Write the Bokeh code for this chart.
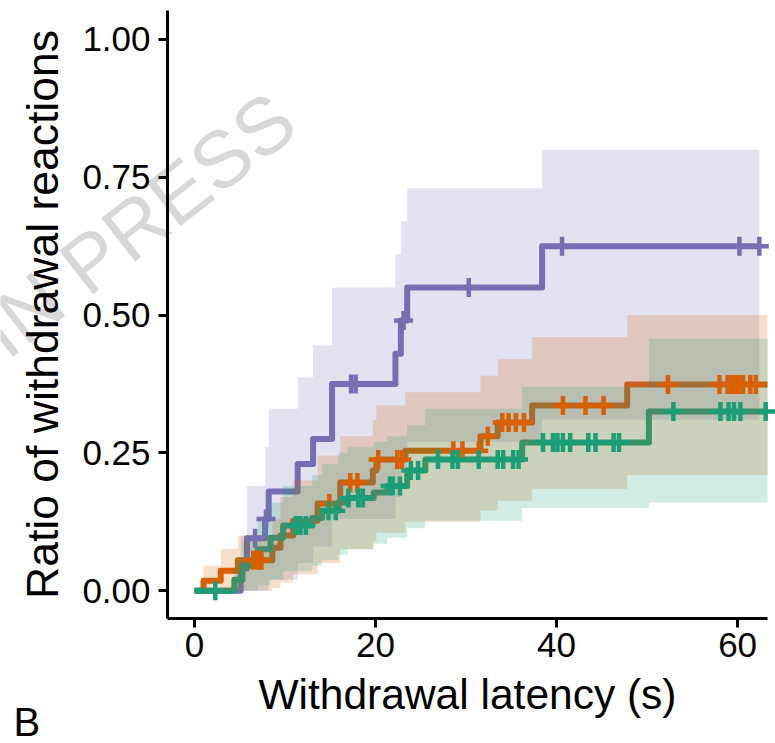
import numpy as np
from bokeh.plotting import figure
from bokeh.models import Range1d, Label, NumeralTickFormatter, FixedTicker
from bokeh.embed import file_html
from bokeh.resources import INLINE

# ---------------- data ----------------
x_ticks = [0, 20, 40, 60]
y_ticks = [0.0, 0.25, 0.5, 0.75, 1.0]
x_lim = (-2.98, 63.3)
y_lim = (-0.0505, 1.0525)

purple_time  = [0, 5.1, 5.8, 7.8, 8.2, 11.4, 13.1, 15.2, 22.2, 22.8, 23.5, 38.4]
purple_est   = [0, 0.04, 0.095, 0.13, 0.18, 0.23, 0.275, 0.375, 0.43, 0.49, 0.55, 0.625]
purple_upper = [0, 0.10, 0.19, 0.26, 0.33, 0.387, 0.445, 0.55, 0.61, 0.67, 0.73, 0.80]
purple_lower = [0, 0, 0, 0, 0.02, 0.05, 0.08, 0.13, 0.17, 0.22, 0.27, 0.31]
purple_end = 62.4
purple_cens = [6.7, 7.9, 17.3, 17.8, 23.1, 30.3, 40.6, 60.2, 62.4]

orange_time  = [0, 1.0, 2.9, 4.8, 8.6, 9.5, 10.9, 13.6, 16.1, 19.7, 20.1, 23.3, 31.6, 33.5, 37.3, 47.8]
orange_est   = [0, 0.018, 0.036, 0.055, 0.078, 0.10, 0.127, 0.158, 0.196, 0.218, 0.238, 0.254, 0.28, 0.305, 0.336, 0.374]
orange_upper = [0, 0.045, 0.076, 0.10, 0.13, 0.17, 0.20, 0.245, 0.28, 0.31, 0.336, 0.36, 0.39, 0.42, 0.46, 0.50]
orange_lower = [0, 0, 0, 0, 0.005, 0.015, 0.03, 0.05, 0.075, 0.09, 0.105, 0.125, 0.145, 0.163, 0.185, 0.21]
orange_end = 63.3
orange_cens = [6.5, 7.0, 7.4, 14.9, 17.2, 18.0, 20.3, 22.4, 22.9, 28.6, 29.6, 31.4, 32.4,
               34.0, 34.7, 35.5, 36.4, 40.7, 43.2, 45.2, 52.3, 58.0, 58.9, 59.4, 59.8,
               60.1, 60.6, 61.4, 62.0]

green_time  = [0, 4.4, 5.3, 7.0, 8.4, 9.8, 13.0, 14.1, 15.9, 16.9, 19.8, 21.3, 23.5, 25.5, 36.2, 50.2]
green_est   = [0, 0.02, 0.045, 0.075, 0.096, 0.118, 0.132, 0.145, 0.16, 0.168, 0.178, 0.19, 0.218, 0.238, 0.269, 0.325]
green_upper = [0, 0.06, 0.09, 0.13, 0.16, 0.19, 0.21, 0.23, 0.25, 0.26, 0.27, 0.28, 0.30, 0.33, 0.37, 0.457]
green_lower = [0, 0, 0, 0.01, 0.02, 0.035, 0.045, 0.055, 0.065, 0.075, 0.085, 0.096, 0.113, 0.127, 0.15, 0.16]
green_end = 63.3
green_cens = [2.3, 11.2, 11.7, 12.3, 14.8, 15.6, 17.0, 18.1, 18.6, 21.6, 21.9, 22.7, 23.9, 24.7,
              26.9, 28.5, 29.1, 31.4, 33.5, 34.1, 35.2, 35.8, 38.5, 39.6, 40.1, 40.7, 41.5,
              43.5, 44.3, 46.3, 46.9, 52.9, 58.1, 59.0, 59.6, 60.3, 63.1]

groups = [
    ("#7570B3", purple_time, purple_est, purple_lower, purple_upper, purple_end, purple_cens),
    ("#D95F02", orange_time, orange_est, orange_lower, orange_upper, orange_end, orange_cens),
    ("#1B9E77", green_time, green_est, green_lower, green_upper, green_end, green_cens),
]

FONT = "Liberation Sans"

# canvas geometry: plotting panel spans px 167..767 (x) and 10..618 (y)
W, H = 775, 743
PL, PR, PT, PB = 167, 767, 10, 618
sx = (PR - PL) / (x_lim[1] - x_lim[0])
sy = (PB - PT) / (y_lim[1] - y_lim[0])
full_x = (x_lim[0] - PL / sx, x_lim[1] + (W - PR) / sx)
full_y = (y_lim[0] - (H - PB) / sy, y_lim[1] + PT / sy)


def stepify(t, v, end):
    xs, ys = [], []
    for i in range(len(t)):
        nxt = t[i + 1] if i + 1 < len(t) else end
        xs += [t[i], nxt]
        ys += [v[i], v[i]]
    return xs, ys


p = figure(width=W, height=H,
           x_range=Range1d(*full_x), y_range=Range1d(*full_y),
           output_backend="svg", toolbar_location=None,
           min_border=0)
p.title.visible = False
p.outline_line_color = None
p.background_fill_color = None
p.border_fill_color = None
p.xgrid.visible = False
p.ygrid.visible = False

# watermark, below everything
wm = Label(x=-6.29, y=0.664, text="IN PRESS", angle=38, angle_units="deg",
           text_font=FONT, text_font_size="80px", text_color="#d8d8d8",
           text_align="center", text_baseline="middle", level="underlay")
p.add_layout(wm)

# lines first (ribbons are drawn over them, as in the reference)
for col, t, est, lo, up, end, cens in groups:
    xs, ys = stepify(t, est, end)
    p.line(xs, ys, line_color=col, line_width=6, line_join="round")

for col, t, est, lo, up, end, cens in groups:
    xs, y1 = stepify(t, lo, end)
    _, y2 = stepify(t, up, end)
    p.varea(x=xs, y1=y1, y2=y2, fill_color=col, fill_alpha=0.2)

for col, t, est, lo, up, end, cens in groups:
    idx = np.searchsorted(np.array(t), np.array(cens), side="right") - 1
    cy = [est[i] for i in idx]
    p.scatter(cens, cy, marker="cross", size=19, line_color=col, line_width=4.5)

# axes (placed at the panel edges)
for ax in (p.xaxis[0], p.yaxis[0]):
    ax.axis_line_width = 3
    ax.axis_line_color = "black"
    ax.major_tick_line_width = 3
    ax.major_tick_line_color = "black"
    ax.major_tick_out = 9
    ax.major_tick_in = 0
    ax.minor_tick_line_color = None
    ax.major_label_text_font = FONT
    ax.major_label_text_font_size = "35px"
    ax.major_label_text_color = "black"
    ax.axis_label_text_font = FONT
    ax.axis_label_text_font_style = "normal"
    ax.axis_label_text_color = "black"

p.xaxis.fixed_location = y_lim[0]
p.yaxis.fixed_location = x_lim[0]
p.xaxis.bounds = x_lim
p.yaxis.bounds = y_lim
p.xaxis.axis_label_text_font_size = "42.5px"
p.yaxis.axis_label_text_font_size = "44.5px"
p.xaxis.ticker = FixedTicker(ticks=x_ticks)
p.yaxis.ticker = FixedTicker(ticks=y_ticks)
p.yaxis.formatter = NumeralTickFormatter(format="0.00")
p.xaxis.axis_label = "Withdrawal latency (s)"
p.yaxis.axis_label = "Ratio of withdrawal reactions"
p.xaxis.major_label_standoff = 5
p.yaxis.major_label_standoff = 8
p.xaxis.axis_label_standoff = 11
p.yaxis.axis_label_standoff = 12

lab_b = Label(x=-20.0, y=-0.2376, text="B", text_font=FONT, text_font_size="40px",
              text_color="black", text_align="left", text_baseline="alphabetic")
p.add_layout(lab_b)

open("out.html", "w").write(file_html(p, INLINE))
